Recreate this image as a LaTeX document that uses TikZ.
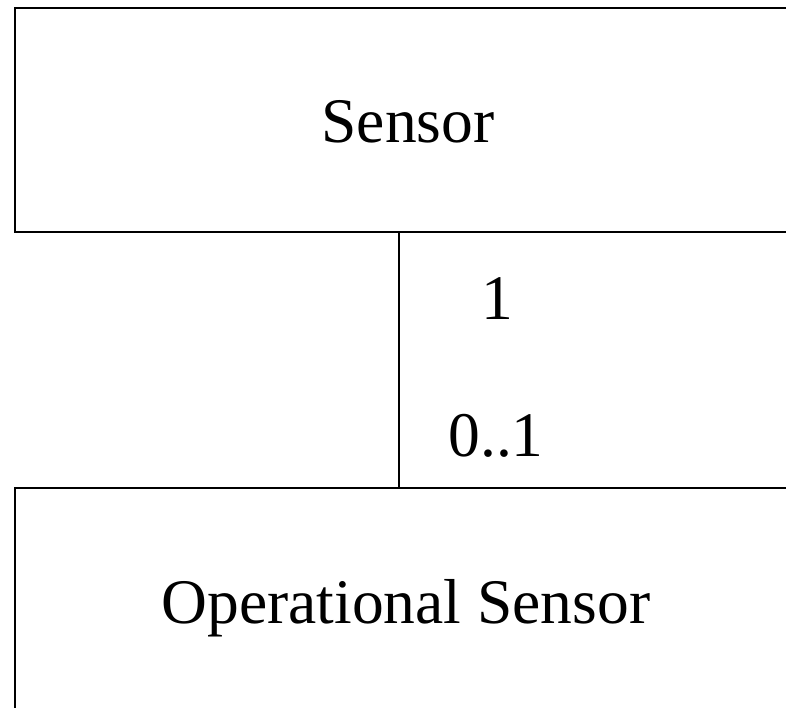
\documentclass[tikz,border=0pt]{standalone}
\usepackage{fontspec}
\setmainfont{Liberation Serif}
\begin{document}
\begin{tikzpicture}[x=1pt,y=-1pt,
  classbox/.style={draw=black,line width=2.6pt},
  link/.style={draw=black,line width=2.6pt},
  lbl/.style={anchor=base,inner sep=0pt,font=\fontsize{63.5}{76}\selectfont}]
\useasboundingbox (0,0) rectangle (786,708);
\clip (0,0) rectangle (786,708);
% class boxes (running past the page edge)
\draw[classbox] (15,8) rectangle (830,232);
\draw[classbox] (15,488) rectangle (830,760);
\coordinate (top) at (399,232);
\coordinate (bot) at (399,488);
\draw[link] (top) -- (bot);
% texts
\node[lbl] (sensor) at (408,143) {Sensor};
\node[lbl] (opsensor) at (406,623) {Operational Sensor};
\node[lbl] (m1) at (497,319) {1};
\node[lbl] (m2) at (496,456) {0..1};
\end{tikzpicture}
\end{document}
